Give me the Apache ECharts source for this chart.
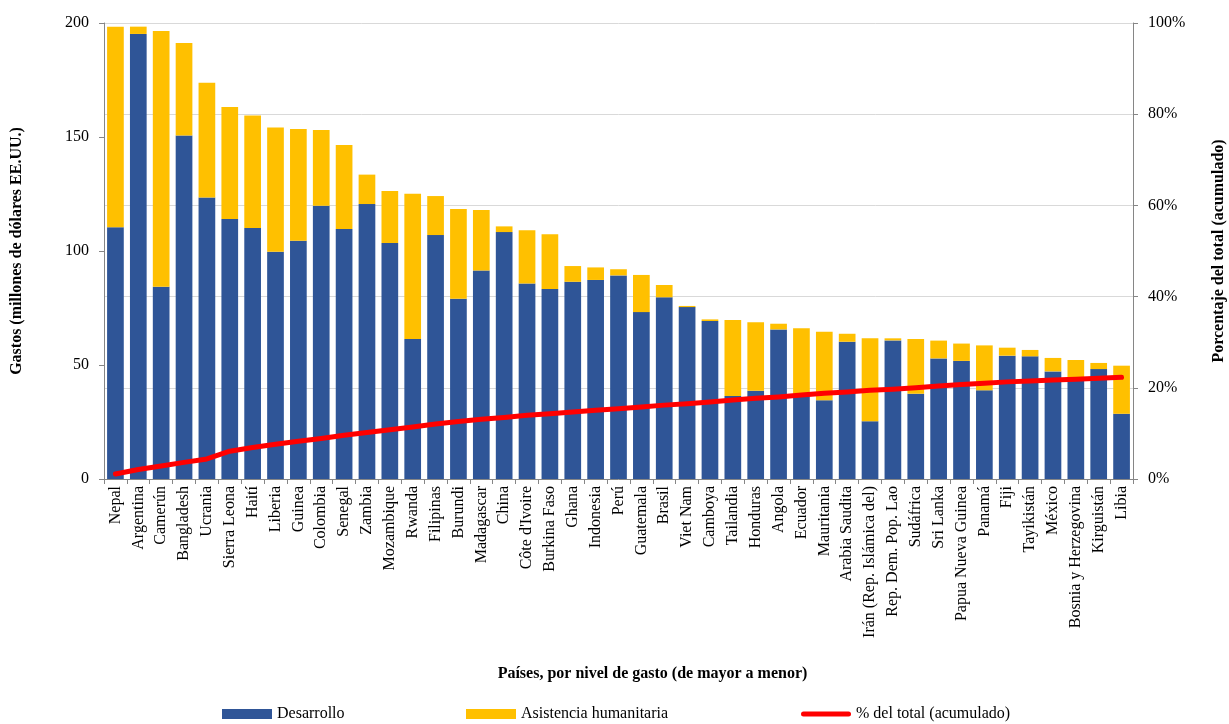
<!DOCTYPE html>
<html>
<head>
<meta charset="utf-8">
<script src="https://cdn.jsdelivr.net/npm/echarts@6/dist/echarts.min.js"></script>
<style>
html,body{margin:0;padding:0;background:#fff;}
#c{width:1229px;height:724px;}
</style>
</head>
<body>
<div id="c"></div>
<script>
const categories = ["Nepal","Argentina","Camerún","Bangladesh","Ucrania","Sierra Leona","Haití","Liberia","Guinea","Colombia","Senegal","Zambia","Mozambique","Rwanda","Filipinas","Burundi","Madagascar","China","Côte d'Ivoire","Burkina Faso","Ghana","Indonesia","Perú","Guatemala","Brasil","Viet Nam","Camboya","Tailandia","Honduras","Angola","Ecuador","Mauritania","Arabia Saudita","Irán (Rep. Islámica del)","Rep. Dem. Pop. Lao","Sudáfrica","Sri Lanka","Papua Nueva Guinea","Panamá","Fiji","Tayikistán","México","Bosnia y Herzegovina","Kirguistán","Libia"];

const desarrollo = [110.4,195.2,84.3,150.7,123.5,114.0,110.1,99.7,104.5,119.9,109.6,120.6,103.5,61.4,107.0,79.1,91.5,108.3,85.8,83.3,86.5,87.3,89.3,73.2,79.7,75.4,69.3,36.4,38.7,65.6,36.8,34.5,60.2,25.3,60.8,37.4,52.9,51.8,38.9,54.1,53.8,47.2,43.0,48.2,28.6];

const humanitaria = [88.0,3.2,112.2,40.5,50.3,49.2,49.3,54.5,49.0,33.2,36.9,12.9,22.8,63.7,17.1,39.3,26.5,2.5,23.3,24.0,6.9,5.5,2.7,16.3,5.4,0.5,0.7,33.3,30.0,2.5,29.3,30.1,3.5,36.4,0.9,24.0,7.8,7.6,19.7,3.5,2.8,5.9,9.2,2.7,21.1];

const acumulado = [1.1,2.1,2.85,3.65,4.4,6.1,6.9,7.6,8.3,8.9,9.6,10.2,10.8,11.4,12.06,12.6,13.1,13.5,14.0,14.3,14.7,15.1,15.4,15.8,16.2,16.5,16.9,17.3,17.7,18.0,18.4,18.8,19.1,19.45,19.7,20.0,20.4,20.7,21.0,21.3,21.5,21.7,21.9,22.1,22.3];

const leftTicks = [0,50,100,150,200];
const rightTicks = [0,20,40,60,80,100];

const FONT = "Liberation Serif";
const chart = echarts.init(document.getElementById('c'), null, {renderer:'canvas'});

const legendBase = {
  bottom:-3,
  itemWidth:50,
  itemHeight:10,
  textStyle:{fontFamily:FONT,fontSize:16,color:'#000'}
};

chart.setOption({
  animation:false,
  backgroundColor:'#ffffff',
  textStyle:{fontFamily:FONT,color:'#000'},
  grid:{left:104,right:96,top:23,bottom:245,containLabel:false,outerBoundsMode:'none'},
  legend:[
    Object.assign({}, legendBase, {left:217, data:[{name:'Desarrollo',icon:'rect'}]}),
    Object.assign({}, legendBase, {left:461, data:[{name:'Asistencia humanitaria',icon:'rect'}]}),
    Object.assign({}, legendBase, {left:796, data:[{name:'% del total (acumulado)',icon:'path://M5,0 L95,0 A5,5 0 0 1 95,10 L5,10 A5,5 0 0 1 5,0 Z',itemStyle:{color:'#FF0000'}}]})
  ],
  xAxis:{
    type:'category',
    data:categories,
    name:'Países, por nivel de gasto (de mayor a menor)',
    nameLocation:'middle',
    nameGap:187,
    nameTextStyle:{fontFamily:FONT,fontSize:16,fontWeight:'bold',color:'#000',padding:[0,0,0,68]},
    axisLine:{lineStyle:{color:'#868686',width:1}},
    axisTick:{show:true,alignWithLabel:false,length:5,lineStyle:{color:'#868686'}},
    axisLabel:{rotate:90,interval:0,fontFamily:FONT,fontSize:16,color:'#000',margin:7}
  },
  yAxis:[
    {
      type:'value',
      min:leftTicks[0],max:leftTicks[leftTicks.length-1],interval:50,
      name:'Gastos (millones de dólares EE.UU.)',
      nameLocation:'middle',
      nameGap:79,
      nameRotate:90,
      nameTextStyle:{fontFamily:FONT,fontSize:16,fontWeight:'bold',color:'#000'},
      axisLine:{show:true,lineStyle:{color:'#868686'}},
      axisTick:{show:true,length:5,lineStyle:{color:'#868686'}},
      axisLabel:{fontFamily:FONT,fontSize:16,color:'#000',margin:15},
      splitLine:{show:false}
    },
    {
      type:'value',
      min:rightTicks[0],max:rightTicks[rightTicks.length-1],interval:20,
      position:'right',
      name:'Porcentaje del total (acumulado)',
      nameLocation:'middle',
      nameGap:78,
      nameRotate:90,
      nameTextStyle:{fontFamily:FONT,fontSize:16,fontWeight:'bold',color:'#000'},
      axisLine:{show:true,lineStyle:{color:'#868686'}},
      axisTick:{show:true,length:5,lineStyle:{color:'#868686'}},
      axisLabel:{fontFamily:FONT,fontSize:16,color:'#000',margin:15,formatter:'{value}%'},
      splitLine:{show:true,lineStyle:{color:'#d9d9d9',width:1}}
    }
  ],
  series:[
    {
      name:'Desarrollo',type:'bar',stack:'total',
      data:desarrollo,
      barCategoryGap:'27%',
      itemStyle:{color:'#2F5597'}
    },
    {
      name:'Asistencia humanitaria',type:'bar',stack:'total',
      data:humanitaria,
      barCategoryGap:'27%',
      itemStyle:{color:'#FFC000'}
    },
    {
      name:'% del total (acumulado)',type:'line',yAxisIndex:1,
      data:acumulado,
      symbol:'none',
      lineStyle:{color:'#FF0000',width:5,cap:'round',join:'round'},
      itemStyle:{color:'#FF0000'},
      z:5
    }
  ]
});
</script>
</body>
</html>
